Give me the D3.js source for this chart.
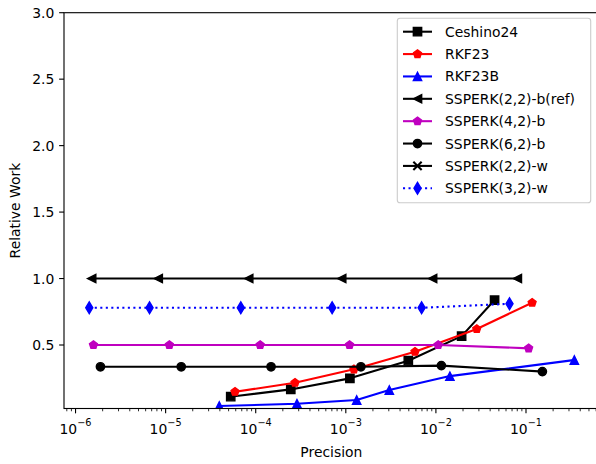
<!DOCTYPE html>
<html>
<head>
<meta charset="utf-8">
<script src="https://cdn.jsdelivr.net/npm/d3@7"></script>
<style>
  body { margin: 0; background: #fff; }
  svg { display: block; font-family: 'DejaVu Sans', sans-serif; }
</style>
</head>
<body>
<div id="chart"></div>
<script>
// ---- data ----
const ceshino24Prec = [5.28e-5, 2.45e-4, 1.11e-3, 4.94e-3, 1.93e-2, 4.48e-2];
const ceshino24Work = [0.111, 0.166, 0.249, 0.382, 0.567, 0.838];

const rkf23Prec = [5.89e-5, 2.73e-4, 1.23e-3, 5.86e-3, 2.84e-2, 1.17e-1];
const rkf23Work = [0.148, 0.216, 0.317, 0.449, 0.620, 0.818];

const rkf23bPrec = [3.94e-5, 2.87e-4, 1.32e-3, 3.04e-3, 1.43e-2, 3.44e-1];
const rkf23bWork = [0.041, 0.058, 0.086, 0.161, 0.266, 0.387];

const ssperk22bPrec = [1.51e-6, 8.28e-6, 8.36e-5, 9.0e-4, 9.19e-3, 8.02e-2];
const ssperk22bWork = [1.0, 1.0, 1.0, 1.0, 1.0, 1.0];

const ssperk42bPrec = [1.58e-6, 1.10e-5, 1.12e-4, 1.10e-3, 1.06e-2, 1.07e-1];
const ssperk42bWork = [0.50, 0.50, 0.50, 0.50, 0.50, 0.475];

const ssperk62bPrec = [1.89e-6, 1.49e-5, 1.48e-4, 1.47e-3, 1.15e-2, 1.52e-1];
const ssperk62bWork = [0.336, 0.336, 0.336, 0.336, 0.345, 0.30];

// (2,2)-w shows up in the legend only, no visible points
const ssperk22wPrec = [];
const ssperk22wWork = [];

const ssperk32wPrec = [1.42e-6, 6.63e-6, 6.83e-5, 7.05e-4, 6.94e-3, 6.56e-2];
const ssperk32wWork = [0.78, 0.78, 0.78, 0.78, 0.78, 0.81];

const xTickExps = [-6, -5, -4, -3, -2, -1];
const yTicks = [0.5, 1.0, 1.5, 2.0, 2.5, 3.0];

const series = [
  { name: 'Ceshino24',          prec: ceshino24Prec, work: ceshino24Work, color: '#000000', marker: 's' },
  { name: 'RKF23',              prec: rkf23Prec,     work: rkf23Work,     color: '#ff0000', marker: 'p' },
  { name: 'RKF23B',             prec: rkf23bPrec,    work: rkf23bWork,    color: '#0000ff', marker: '^' },
  { name: 'SSPERK(2,2)-b(ref)', prec: ssperk22bPrec, work: ssperk22bWork, color: '#000000', marker: '<' },
  { name: 'SSPERK(4,2)-b',      prec: ssperk42bPrec, work: ssperk42bWork, color: '#bf00bf', marker: 'p' },
  { name: 'SSPERK(6,2)-b',      prec: ssperk62bPrec, work: ssperk62bWork, color: '#000000', marker: 'o' },
  { name: 'SSPERK(2,2)-w',      prec: ssperk22wPrec, work: ssperk22wWork, color: '#000000', marker: 'x' },
  { name: 'SSPERK(3,2)-w',      prec: ssperk32wPrec, work: ssperk32wWork, color: '#0000ff', marker: 'd', dotted: true },
];

// ---- layout (matplotlib-ish) ----
const W = 596, H = 464;
const m = { l: 64, r: 598.7, t: 12.7, b: 408.5 };
const FS = 13.9;
const MS = 8.33;      // marker size
const LW = 2.08;      // line width

const svg = d3.select('#chart').append('svg')
  .attr('width', W).attr('height', H)
  .attr('viewBox', `0 0 ${W} ${H}`);

svg.append('rect').attr('width', W).attr('height', H).attr('fill', '#fff');

const x = d3.scaleLog()
  .domain([Math.pow(10, -6.128), Math.pow(10, -0.193)])
  .range([m.l, m.r]);
const y = d3.scaleLinear()
  .domain([0.0223, 3.0])
  .range([m.b, m.t]);

svg.append('clipPath').attr('id', 'plot-clip')
  .append('rect')
  .attr('x', m.l).attr('y', m.t)
  .attr('width', m.r - m.l).attr('height', m.b - m.t);

// marker path generator, centred at 0,0
function markerPath(kind) {
  const h = MS / 2;
  if (kind === 's') return `M${-h},${-h}H${h}V${h}H${-h}Z`;
  if (kind === 'o') return d3.symbol(d3.symbolCircle, Math.PI * h * h)();
  if (kind === '^') return `M0,${-h}L${h},${h}L${-h},${h}Z`;
  if (kind === '<') return `M${-h},0L${h},${-h}L${h},${h}Z`;
  if (kind === 'p') {
    const pts = d3.range(5).map(i => {
      const a = -Math.PI / 2 + i * 2 * Math.PI / 5;
      return [h * Math.cos(a), h * Math.sin(a)];
    });
    return 'M' + pts.map(p => p.join(',')).join('L') + 'Z';
  }
  if (kind === 'd') {
    const dy = MS * Math.SQRT1_2, dx = dy * 0.6;
    return `M0,${-dy}L${dx},0L0,${dy}L${-dx},0Z`;
  }
  if (kind === 'x') return `M${-h},${-h}L${h},${h}M${-h},${h}L${h},${-h}`;
  return '';
}

function drawMarker(g, kind, color, cx, cy) {
  const p = g.append('path')
    .attr('d', markerPath(kind))
    .attr('transform', `translate(${cx},${cy})`)
    .attr('stroke', color)
    .attr('stroke-width', kind === 'x' ? LW : 1.39)
    .attr('stroke-linejoin', 'miter');
  p.attr('fill', kind === 'x' ? 'none' : color);
}

// ---- ticks ----
const axisG = svg.append('g');
const decades = d3.range(-7, 1);
const minorTicks = [];
decades.forEach(e => {
  for (let k = 2; k <= 9; k++) {
    const v = k * Math.pow(10, e);
    if (v >= x.domain()[0] && v <= x.domain()[1]) minorTicks.push(v);
  }
});
axisG.selectAll('line.xminor').data(minorTicks).join('line')
  .attr('x1', d => x(d)).attr('x2', d => x(d))
  .attr('y1', m.b).attr('y2', m.b + 2.78)
  .attr('stroke', '#000').attr('stroke-width', 0.83);

axisG.selectAll('line.xmajor').data(xTickExps).join('line')
  .attr('x1', d => x(Math.pow(10, d))).attr('x2', d => x(Math.pow(10, d)))
  .attr('y1', m.b).attr('y2', m.b + 4.86)
  .attr('stroke', '#000').attr('stroke-width', 1.11);

xTickExps.forEach(e => {
  const t = axisG.append('text')
    .attr('x', x(Math.pow(10, e))).attr('y', 434)
    .attr('text-anchor', 'middle')
    .attr('font-size', FS).attr('fill', '#000');
  t.append('tspan').text('10');
  t.append('tspan').attr('dy', -8).attr('font-size', FS * 0.7).text('\u2212' + Math.abs(e));
});

axisG.selectAll('line.ymajor').data(yTicks).join('line')
  .attr('x1', m.l - 4.86).attr('x2', m.l)
  .attr('y1', d => y(d)).attr('y2', d => y(d))
  .attr('stroke', '#000').attr('stroke-width', 1.11);

axisG.selectAll('text.ylab').data(yTicks).join('text')
  .attr('x', m.l - 9.7).attr('y', d => y(d))
  .attr('dy', '0.36em')
  .attr('text-anchor', 'end')
  .attr('font-size', FS).attr('fill', '#000')
  .text(d => d.toFixed(1));

// axis titles
svg.append('text')
  .attr('x', (m.l + m.r) / 2).attr('y', 457)
  .attr('text-anchor', 'middle')
  .attr('font-size', FS).attr('fill', '#000')
  .text('Precision');
svg.append('text')
  .attr('transform', `translate(20,${(m.t + m.b) / 2}) rotate(-90)`)
  .attr('text-anchor', 'middle')
  .attr('font-size', FS).attr('fill', '#000')
  .text('Relative Work');

// ---- series ----
const plotG = svg.append('g').attr('clip-path', 'url(#plot-clip)');
const line = d3.line().x(d => x(d[0])).y(d => y(d[1]));

series.forEach(s => {
  const pts = s.prec.map((p, i) => [p, s.work[i]]);
  const g = plotG.append('g');
  if (pts.length) {
    g.append('path')
      .attr('d', line(pts))
      .attr('fill', 'none')
      .attr('stroke', s.color)
      .attr('stroke-width', LW)
      .attr('stroke-linejoin', 'round')
      .attr('stroke-linecap', s.dotted ? 'butt' : 'square')
      .attr('stroke-dasharray', s.dotted ? `${LW},${LW * 1.65}` : null);
  }
  pts.forEach(p => drawMarker(g, s.marker, s.color, x(p[0]), y(p[1])));
});

// ---- spines ----
svg.append('rect')
  .attr('x', m.l).attr('y', m.t)
  .attr('width', m.r - m.l).attr('height', m.b - m.t)
  .attr('fill', 'none').attr('stroke', '#000').attr('stroke-width', 1.11);

// ---- legend ----
const lg = svg.append('g');
const lx = 397.3, ly = 18.3, lw = 193.4, lh = 184.4;
lg.append('rect')
  .attr('x', lx).attr('y', ly).attr('width', lw).attr('height', lh)
  .attr('rx', 2.8)
  .attr('fill', '#fff').attr('fill-opacity', 0.8)
  .attr('stroke', '#cccccc').attr('stroke-width', 1.11);

series.forEach((s, i) => {
  const cy = 31.7 + i * 22.37;
  lg.append('line')
    .attr('x1', 403).attr('x2', 432)
    .attr('y1', cy).attr('y2', cy)
    .attr('stroke', s.color).attr('stroke-width', LW)
    .attr('stroke-dasharray', s.dotted ? `${LW},${LW * 1.65}` : null);
  drawMarker(lg, s.marker, s.color, 417.5, cy);
  lg.append('text')
    .attr('x', 445).attr('y', cy).attr('dy', '0.36em')
    .attr('font-size', FS).attr('fill', '#000')
    .text(s.name);
});
</script>
</body>
</html>
